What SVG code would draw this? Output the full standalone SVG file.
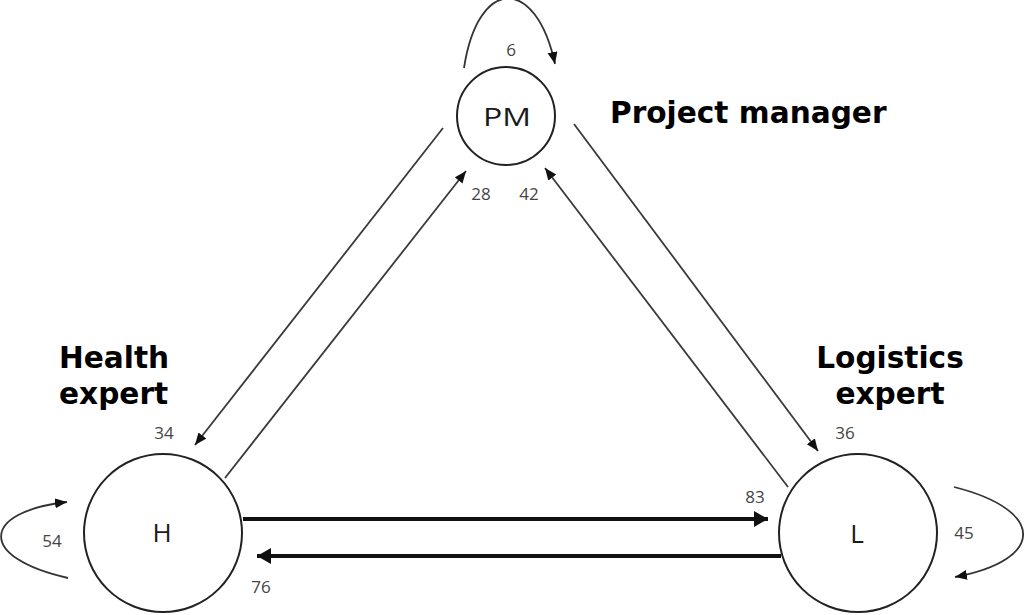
<svg xmlns="http://www.w3.org/2000/svg" width="1024" height="615" viewBox="0 0 1024 615">
<defs>
<style>
.node{fill:#fff;stroke:#222;stroke-width:2}
.nl{font-family:"Open Sans","DejaVu Sans",sans-serif;font-size:26px;fill:#1a1a1a;text-anchor:middle}
.num{font-family:"Open Sans","DejaVu Sans",sans-serif;font-size:17px;fill:#444;text-anchor:middle}
.big{font-family:"DejaVu Sans","Verdana",sans-serif;font-size:29.6px;font-weight:bold;fill:#000}
.thin{fill:none;stroke:#3a3a3a;stroke-width:1.8;marker-end:url(#ah)}
.thick{fill:none;stroke:#111;stroke-width:4}
.loop{fill:none;stroke:#333;stroke-width:1.8;marker-end:url(#ah)}
</style>
<marker id="ah" markerUnits="userSpaceOnUse" markerWidth="13" markerHeight="11" refX="12" refY="5" orient="auto" viewBox="0 0 13 11">
<path d="M0,0 L12,5 L0,10 z" fill="#111"/>
</marker>
<marker id="ahk" markerUnits="userSpaceOnUse" markerWidth="15" markerHeight="17" refX="14" refY="8" orient="auto" viewBox="0 0 15 17">
<path d="M0,0 L14,8 L0,16 z" fill="#111"/>
</marker>
</defs>
<rect width="1024" height="615" fill="#fff"/>
<g id="connectors">
<path class="thin" d="M443,128 L195,445"/>
<path class="thin" d="M225,478 L466,171"/>
<path class="thin" d="M574,124 L818,451"/>
<path class="thin" d="M788,487 L545,168"/>
<path class="thick" marker-end="url(#ahk)" d="M243,519 L768,519"/>
<path class="thick" marker-end="url(#ahk)" d="M781,556 L257,556"/>
<path class="loop" d="M464,68 C478,-24 536,-24 555,64"/>
<path class="loop" d="M68,578 C-22,558 -20,512 67,502"/>
<path class="loop" d="M954,487 C1046,510 1046,560 955,577"/>
<text class="num" x="511" y="56">6</text>
<text class="num" x="481" y="200">28</text>
<text class="num" x="529" y="200">42</text>
<text class="num" x="164" y="439">34</text>
<text class="num" x="845" y="439">36</text>
<text class="num" x="52" y="547">54</text>
<text class="num" x="964" y="539">45</text>
<text class="num" x="755" y="503">83</text>
<text class="num" x="261" y="593">76</text>
</g>
<g id="node-PM">
<circle class="node" cx="506" cy="116" r="49"/>
<text class="nl" x="507" y="126" textLength="48" lengthAdjust="spacingAndGlyphs">PM</text>
</g>
<g id="node-H">
<circle class="node" cx="163" cy="533" r="79"/>
<text class="nl" x="162" y="542">H</text>
</g>
<g id="node-L">
<circle class="node" cx="858" cy="533" r="79"/>
<text class="nl" x="857" y="543">L</text>
</g>
<g id="labels">
<text class="big" x="610" y="123">Project manager</text>
<text class="big" x="59" y="368">Health</text>
<text class="big" x="59" y="404">expert</text>
<text class="big" x="890" y="368" text-anchor="middle">Logistics</text>
<text class="big" x="890" y="404" text-anchor="middle">expert</text>
</g>
</svg>
